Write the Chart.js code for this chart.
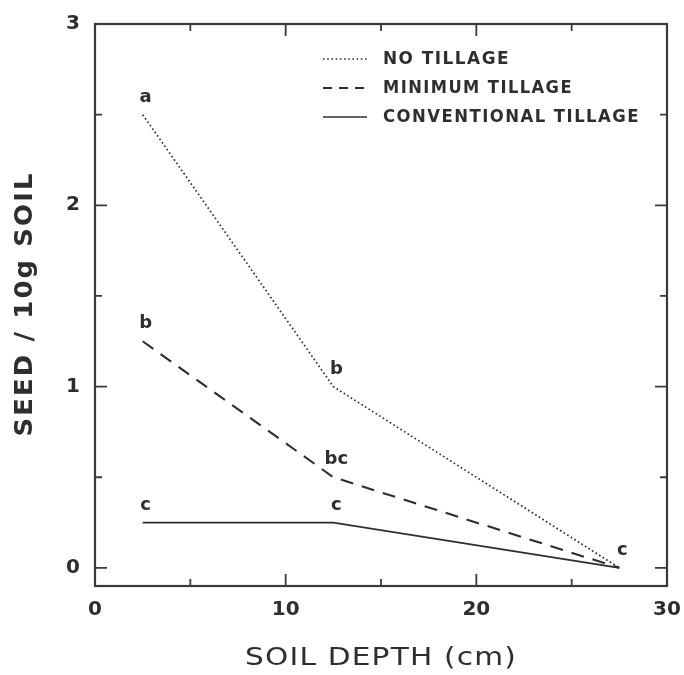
<!DOCTYPE html>
<html>
<head>
<meta charset="utf-8">
<script src="https://cdn.jsdelivr.net/npm/chart.js@4/dist/chart.umd.min.js"></script>
<style>
html,body{margin:0;padding:0;background:#fff;}
#wrap{position:relative;width:684px;height:675px;}
</style>
</head>
<body>
<div id="wrap"><canvas id="c" width="684" height="675"></canvas></div>
<script>
// ---- data ----
const depths = [2.5, 12.5, 27.5];
const noTillage = [2.5, 1.0, 0];
const minimumTillage = [1.25, 0.5, 0];
const conventionalTillage = [0.25, 0.25, 0];
const noTillageLetters = ['a', 'b', 'c'];
const minimumTillageLetters = ['b', 'bc', ''];
const conventionalTillageLetters = ['c', 'c', ''];
const seriesNames = ['NO TILLAGE', 'MINIMUM TILLAGE', 'CONVENTIONAL TILLAGE'];
const xTicks = [0, 10, 20, 30];
const yTicks = [0, 1, 2, 3];
const xMinorTicks = [5, 15, 25];
const yMinorTicks = [0.5, 1.5, 2.5];
const xTitle = 'SOIL DEPTH (cm)';
const yTitle = 'SEED / 10g SOIL';

const INK = '#2e2e2e';
const toPts = vals => depths.map((d, i) => ({x: d, y: vals[i]}));
const dashes = [[1.6, 2.6], [13, 9], []];
const widths = [1.7, 2.1, 1.7];

const datasets = [noTillage, minimumTillage, conventionalTillage].map((v, i) => ({
  label: seriesNames[i],
  data: toPts(v),
  showLine: true,
  borderColor: INK,
  borderWidth: widths[i],
  borderDash: dashes[i],
  pointRadius: 0,
  fill: false,
  letters: [noTillageLetters, minimumTillageLetters, conventionalTillageLetters][i]
}));

// draw text squeezed/stretched horizontally to a target width
function fitText(ctx, text, cx, cy, targetW, align) {
  const w = ctx.measureText(text).width;
  const s = targetW / w;
  ctx.save();
  ctx.translate(cx, cy);
  ctx.scale(s, 1);
  ctx.textAlign = align;
  ctx.fillText(text, 0, 0);
  ctx.restore();
}

const decor = {
  id: 'decor',
  afterDraw(chart) {
    const ctx = chart.ctx;
    const a = chart.chartArea;
    const xs = chart.scales.x, ys = chart.scales.y;
    ctx.save();
    // frame
    ctx.strokeStyle = '#3a3a3a';
    ctx.lineWidth = 2.2;
    ctx.strokeRect(a.left, a.top, a.right - a.left, a.bottom - a.top);
    // inward ticks
    ctx.lineWidth = 1.8;
    const tick = (v, len, axis) => {
      if (axis === 'x') {
        const p = xs.getPixelForValue(v);
        ctx.beginPath();
        ctx.moveTo(p, a.bottom); ctx.lineTo(p, a.bottom - len);
        ctx.moveTo(p, a.top); ctx.lineTo(p, a.top + len);
        ctx.stroke();
      } else {
        const p = ys.getPixelForValue(v);
        ctx.beginPath();
        ctx.moveTo(a.left, p); ctx.lineTo(a.left + len, p);
        ctx.moveTo(a.right, p); ctx.lineTo(a.right - len, p);
        ctx.stroke();
      }
    };
    xTicks.forEach(v => tick(v, 12, 'x'));
    xMinorTicks.forEach(v => tick(v, 7, 'x'));
    yTicks.forEach(v => tick(v, 12, 'y'));
    yMinorTicks.forEach(v => tick(v, 7, 'y'));

    // point letters
    ctx.fillStyle = INK;
    ctx.font = 'bold 18px "DejaVu Sans"';
    ctx.textAlign = 'center';
    ctx.textBaseline = 'alphabetic';
    chart.data.datasets.forEach((ds, i) => {
      const meta = chart.getDatasetMeta(i);
      meta.data.forEach((pt, j) => {
        const t = ds.letters[j];
        if (!t) return;
        ctx.fillText(t, pt.x + 3, pt.y - 13);
      });
    });

    // legend
    const lx0 = 323, lx1 = 367, tx = 383;
    const ly = [59, 88, 117];
    const lw = [127, 190, 257];
    ctx.textBaseline = 'middle';
    ctx.font = 'bold 17px "DejaVu Sans"';
    ctx.letterSpacing = '1.5px';
    chart.data.datasets.forEach((ds, i) => {
      ctx.strokeStyle = INK;
      ctx.lineWidth = ds.borderWidth;
      ctx.setLineDash(i === 1 ? [9, 7] : ds.borderDash);
      ctx.beginPath();
      ctx.moveTo(lx0, ly[i]); ctx.lineTo(lx1, ly[i]);
      ctx.stroke();
      ctx.setLineDash([]);
      fitText(ctx, ds.label, tx, ly[i] + 1, lw[i], 'left');
    });

    // axis titles
    ctx.letterSpacing = '1px';
    ctx.font = '25px "DejaVu Sans"';
    ctx.textBaseline = 'middle';
    fitText(ctx, xTitle, 381, 658, 272, 'center');
    ctx.save();
    ctx.translate(26, 304);
    ctx.rotate(-Math.PI / 2);
    ctx.font = 'bold 24px "DejaVu Sans"';
    ctx.letterSpacing = '2px';
    fitText(ctx, yTitle, 0, 0, 265, 'center');
    ctx.restore();
    ctx.restore();
  }
};

new Chart(document.getElementById('c'), {
  type: 'scatter',
  data: {datasets},
  options: {
    responsive: false,
    animation: false,
    layout: {autoPadding: false, padding: {top: 24, right: 17, left: 0, bottom: 0}},
    plugins: {legend: {display: false}, tooltip: {enabled: false}},
    scales: {
      x: {
        type: 'linear', min: 0, max: 30,
        afterBuildTicks: s => { s.ticks = xTicks.map(v => ({value: v})); },
        afterFit: s => { s.height = 89; s.paddingLeft = 0; s.paddingRight = 0; },
        grid: {display: false, drawTicks: false},
        border: {display: false},
        ticks: {color: INK, font: {family: 'DejaVu Sans', size: 20, weight: 'bold'}, padding: 12, maxRotation: 0}
      },
      y: {
        type: 'linear', min: -0.1, max: 3,
        afterBuildTicks: s => { s.ticks = yTicks.map(v => ({value: v})); },
        afterFit: s => { s.width = 95; s.paddingTop = 0; s.paddingBottom = 0; },
        grid: {display: false, drawTicks: false},
        border: {display: false},
        ticks: {color: INK, font: {family: 'DejaVu Sans', size: 20, weight: 'bold'}, padding: 15}
      }
    }
  },
  plugins: [decor]
});
</script>
</body>
</html>
